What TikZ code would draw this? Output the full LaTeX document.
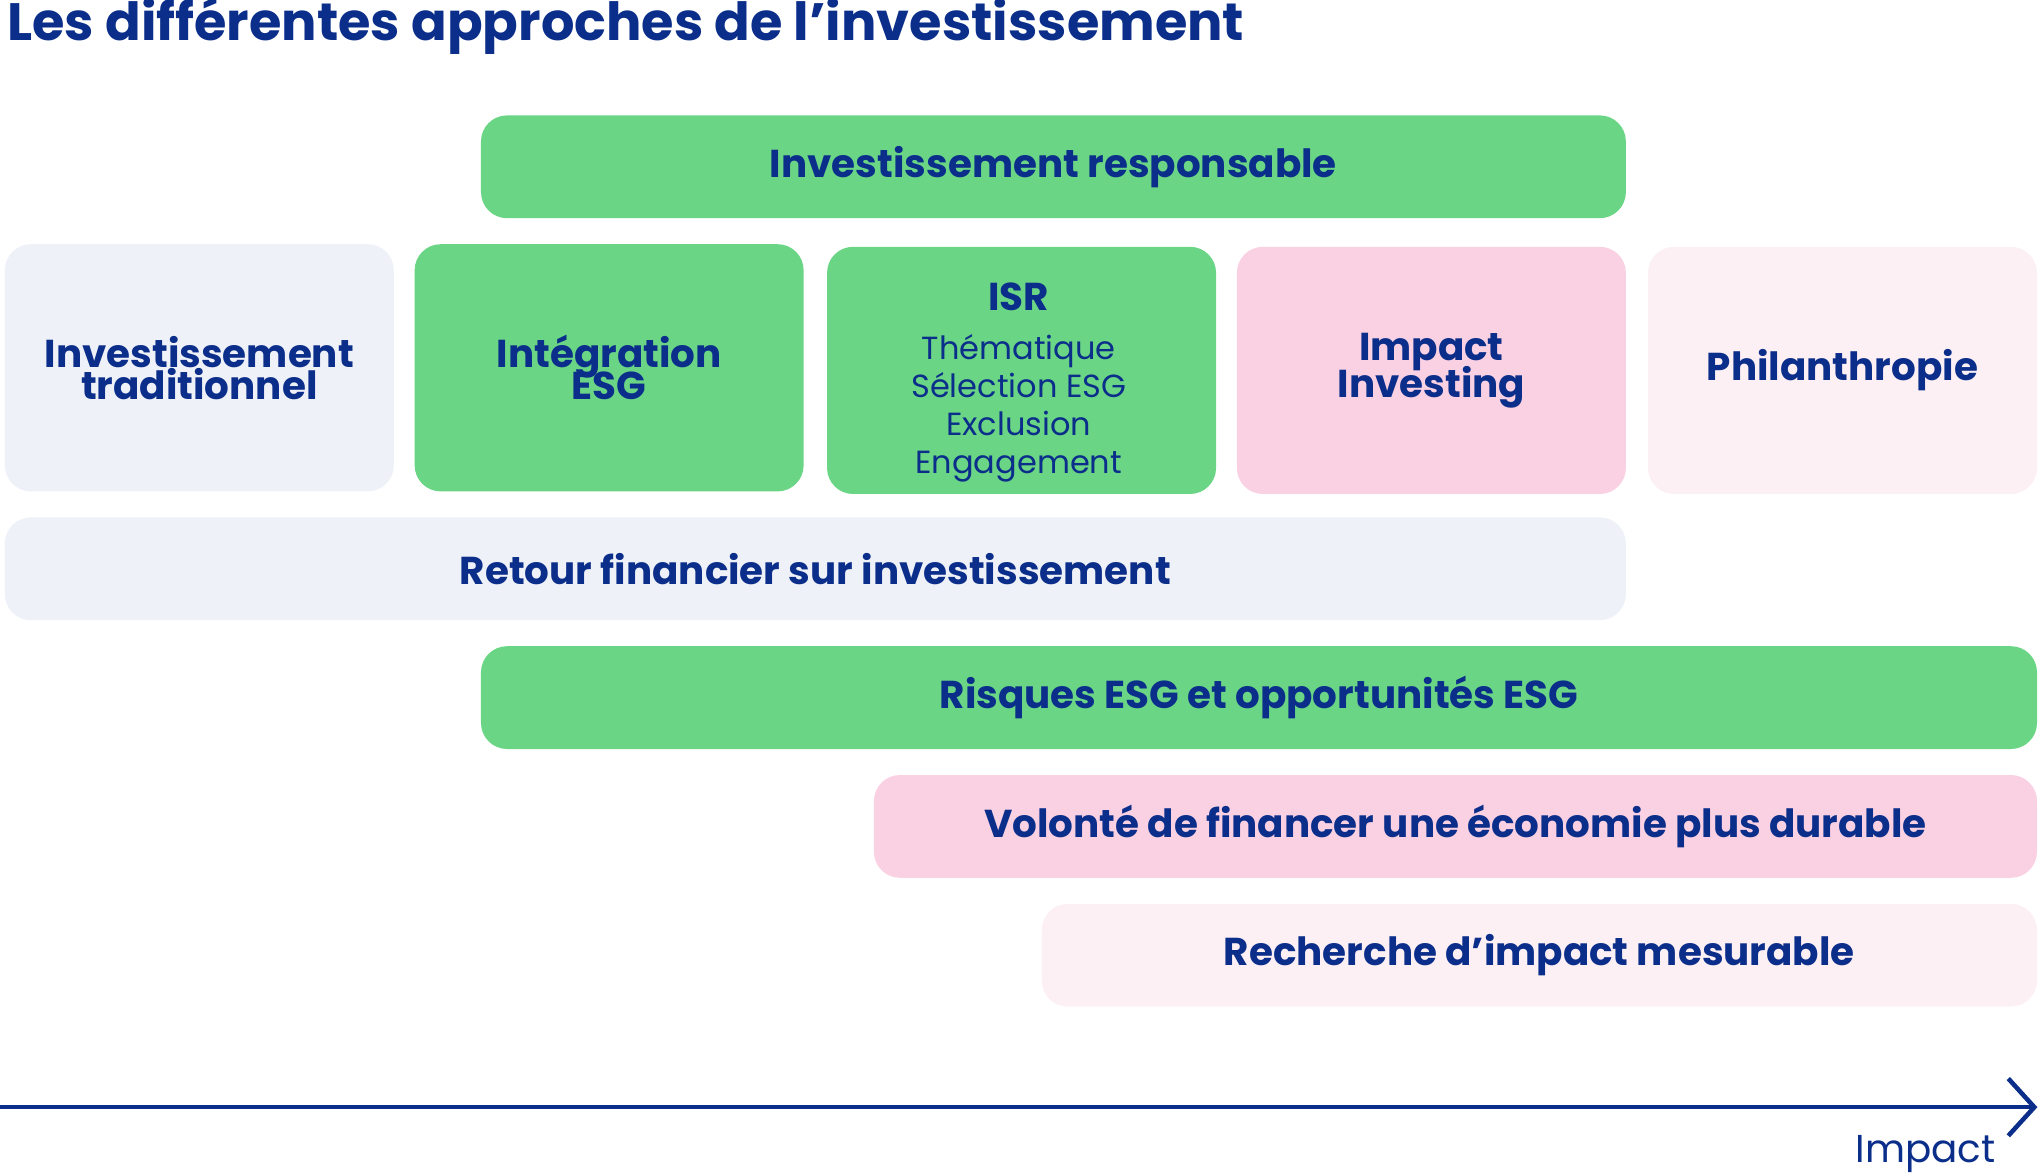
\documentclass[tikz,border=0pt]{standalone}
\usepackage{fontspec}
\setmainfont{Poppins}
\usetikzlibrary{arrows.meta}
\definecolor{navy}{HTML}{0B2E8A}
\definecolor{grn}{HTML}{6AD585}
\definecolor{gry}{HTML}{EEF1F7}
\definecolor{pnk}{HTML}{FAD1E3}
\definecolor{lpnk}{HTML}{FDF0F5}
\tikzset{box/.style={rounded corners=2mm,inner sep=0pt,anchor=north west,text=navy,font=\fontsize{8.5}{9}\selectfont\bfseries,align=center},
bar/.style={box,minimum height=7.9mm},
cell/.style={box,minimum width=29.9mm,minimum height=19mm}}
\begin{document}
\begin{tikzpicture}[x=0.1mm,y=-0.1mm]
\useasboundingbox (0,0) rectangle (1568,903);
\node[anchor=west,text=navy,font=\fontsize{11.5}{12}\selectfont\bfseries,inner sep=0pt] (title) at (5,20) {Les différentes approches de l’investissement};
\node[bar,fill=grn,minimum width=88mm] (resp) at (369,88) {Investissement responsable};
\node[cell,fill=gry] (trad) at (3,187) {Investissement\\[-2pt]traditionnel};
\node[cell,fill=grn] (integ) at (318,187) {Intégration\\[-2pt]ESG};
\node[cell,fill=grn] (isr) at (635,189) {};
\node[anchor=north,text=navy,font=\fontsize{8.5}{9}\selectfont\bfseries] (isrt) at (783,205) {ISR};
\node[anchor=north,text=navy,font=\fontsize{7}{8.3}\selectfont,align=center] (isrl) at (783,245) {Thématique\\Sélection ESG\\Exclusion\\Engagement};
\node[cell,fill=pnk] (imp) at (950,189) {Impact\\[-2pt]Investing};
\node[cell,fill=lpnk] (phil) at (1266,189) {Philanthropie};
\node[bar,fill=gry,minimum width=124.6mm] (ret) at (3,397) {Retour financier sur investissement};
\node[bar,fill=grn,minimum width=119.6mm] (risk) at (369,496) {Risques ESG et opportunités ESG};
\node[bar,fill=pnk,minimum width=89.4mm] (vol) at (671,595) {Volonté de financer une économie plus durable};
\node[bar,fill=lpnk,minimum width=76.5mm] (rech) at (800,694) {Recherche d’impact mesurable};
\coordinate (a0) at (0,851);
\coordinate (a1) at (1566,851);
\draw[navy,line width=0.35mm,-{Straight Barb[length=2mm,width=4.4mm,line width=0.35mm]}] (a0) -- (a1);
\node[text=navy,font=\fontsize{8.5}{9}\selectfont,inner sep=0pt] (lbl) at (1480,887) {Impact};
\end{tikzpicture}
\end{document}
